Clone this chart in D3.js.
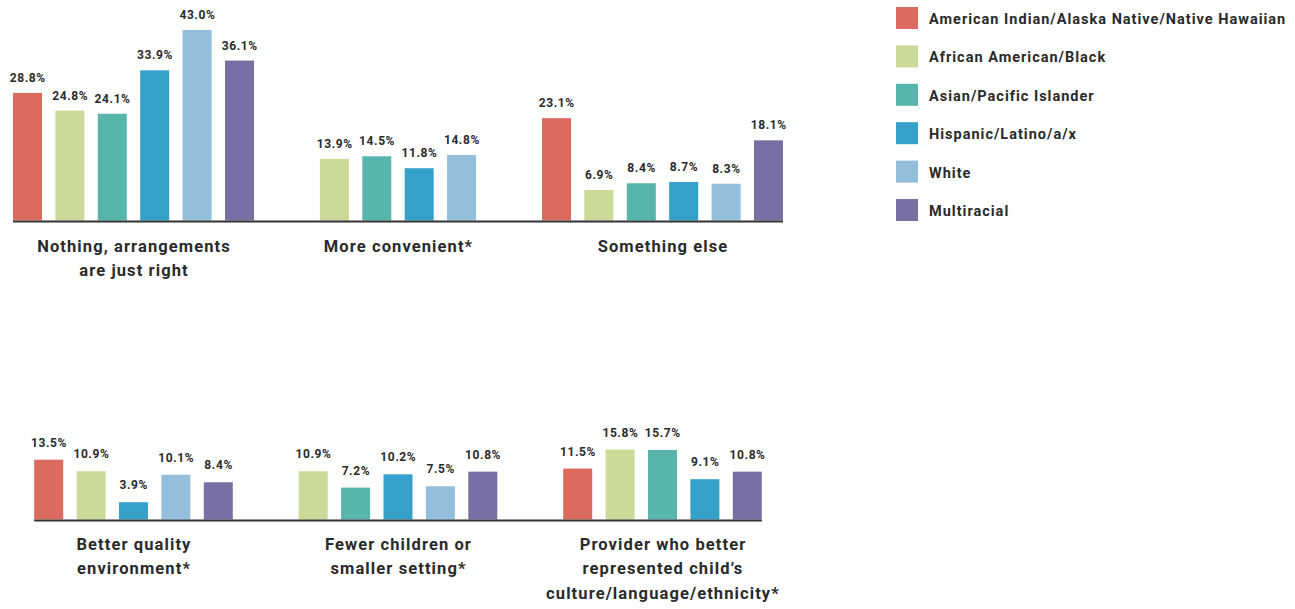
<!DOCTYPE html>
<html>
<head>
<meta charset="utf-8">
<script src="https://cdn.jsdelivr.net/npm/d3@7"></script>
<style>
  html, body { margin: 0; padding: 0; background: #fff; }
  svg { display: block; font-family: Roboto, "Noto Sans", sans-serif; font-weight: 700; }
</style>
</head>
<body>
<svg id="chart" width="1295" height="609"></svg>
<script>
// Race / ethnicity series
const races = [
  "American Indian/Alaska Native/Native Hawaiian",
  "African American/Black",
  "Asian/Pacific Islander",
  "Hispanic/Latino/a/x",
  "White",
  "Multiracial"
];
const raceColors = ["#dc6b5f", "#cbda98", "#57b5ac", "#35a0c9", "#93bedc", "#7670a5"];

// Response categories (label lines), in drawing order: top row then bottom row
const categories = [
  ["Nothing, arrangements", "are just right"],
  ["More convenient*"],
  ["Something else"],
  ["Better quality", "environment*"],
  ["Fewer children or", "smaller setting*"],
  ["Provider who better", "represented child\u2019s", "culture/language/ethnicity*"]
];

// Percent values per series, one entry per category (null = not reported)
const americanIndian = [28.8, null, 23.1, 13.5, null, 11.5];
const black          = [24.8, 13.9, 6.9, 10.9, 10.9, 15.8];
const asian          = [24.1, 14.5, 8.4, null, 7.2, 15.7];
const hispanic       = [33.9, 11.8, 8.7, 3.9, 10.2, 9.1];
const white          = [43.0, 14.8, 8.3, 10.1, 7.5, null];
const multiracial    = [36.1, null, 18.1, 8.4, 10.8, 10.8];

const seriesValues = [americanIndian, black, asian, hispanic, white, multiracial];

const svg = d3.select("#chart");
const textColor = "#2a2a2a";

// Two rows of three category panels
const rows = [
  { cats: [0, 1, 2], base: 220.5, labelY: 251.5, valueGap: 11 },
  { cats: [3, 4, 5], base: 519.5, labelY: 549.5, valueGap: 13 }
];

const pxPerPct = 4.43;
const barStep = 42.4, barWidth = 29;
const fullGroupWidth = (races.length - 1) * barStep + barWidth;

const color = d3.scaleOrdinal().domain(races).range(raceColors);

rows.forEach(row => {
  const x0 = d3.scaleBand()
    .domain(row.cats)
    .range([13, 13 + 3 * 264.5]);

  const y = d3.scaleLinear()
    .domain([0, 43])
    .range([row.base, row.base - 43 * pxPerPct]);

  let lineStart = Infinity, lineEnd = -Infinity;

  row.cats.forEach(ci => {
    const present = races
      .map((r, ri) => ({ race: r, value: seriesValues[ri][ci] }))
      .filter(d => d.value !== null);

    const groupWidth = (present.length - 1) * barStep + barWidth;
    const offset = x0(ci) + (fullGroupWidth - groupWidth) / 2;

    const x1 = d3.scaleBand()
      .domain(present.map(d => d.race))
      .range([offset, offset + groupWidth])
      .paddingInner(1 - barWidth / barStep);

    lineStart = Math.min(lineStart, offset);
    lineEnd = Math.max(lineEnd, offset + groupWidth);

    const g = svg.append("g");

    g.selectAll("rect")
      .data(present)
      .join("rect")
      .attr("x", d => x1(d.race))
      .attr("y", d => y(d.value))
      .attr("width", x1.bandwidth())
      .attr("height", d => y(0) - y(d.value))
      .attr("fill", d => color(d.race));

    g.selectAll("text.value")
      .data(present)
      .join("text")
      .attr("class", "value")
      .attr("x", d => x1(d.race) + x1.bandwidth() / 2 + 0.3)
      .attr("y", d => y(d.value) - row.valueGap)
      .attr("text-anchor", "middle")
      .attr("font-size", 12)
      .attr("letter-spacing", 0.6)
      .attr("fill", textColor)
      .text(d => d.value.toFixed(1) + "%");

    // Category label under the panel
    const cx = x0(ci) + fullGroupWidth / 2 + 0.5;
    g.append("text")
      .attr("x", cx)
      .attr("y", row.labelY)
      .attr("text-anchor", "middle")
      .attr("font-size", 16.5)
      .attr("letter-spacing", 1.1)
      .attr("fill", textColor)
      .selectAll("tspan")
      .data(categories[ci])
      .join("tspan")
      .attr("x", cx)
      .attr("dy", (d, i) => i === 0 ? 0 : 24.5)
      .text(d => d);
  });

  // Baseline across the row
  svg.append("line")
    .attr("x1", lineStart)
    .attr("x2", lineEnd)
    .attr("y1", row.base + 1)
    .attr("y2", row.base + 1)
    .attr("stroke", "#333")
    .attr("stroke-width", 2);
});

// Legend
const legendY = d3.scalePoint().domain(races).range([7, 199]);
const legend = svg.append("g").attr("transform", "translate(896,0)");
const item = legend.selectAll("g")
  .data(races)
  .join("g")
  .attr("transform", d => `translate(0,${legendY(d)})`);
item.append("rect")
  .attr("width", 22)
  .attr("height", 22)
  .attr("fill", d => color(d));
item.append("text")
  .attr("x", 33)
  .attr("y", 17)
  .attr("font-size", 14.5)
  .attr("letter-spacing", 1)
  .attr("fill", textColor)
  .text(d => d);
</script>
</body>
</html>
